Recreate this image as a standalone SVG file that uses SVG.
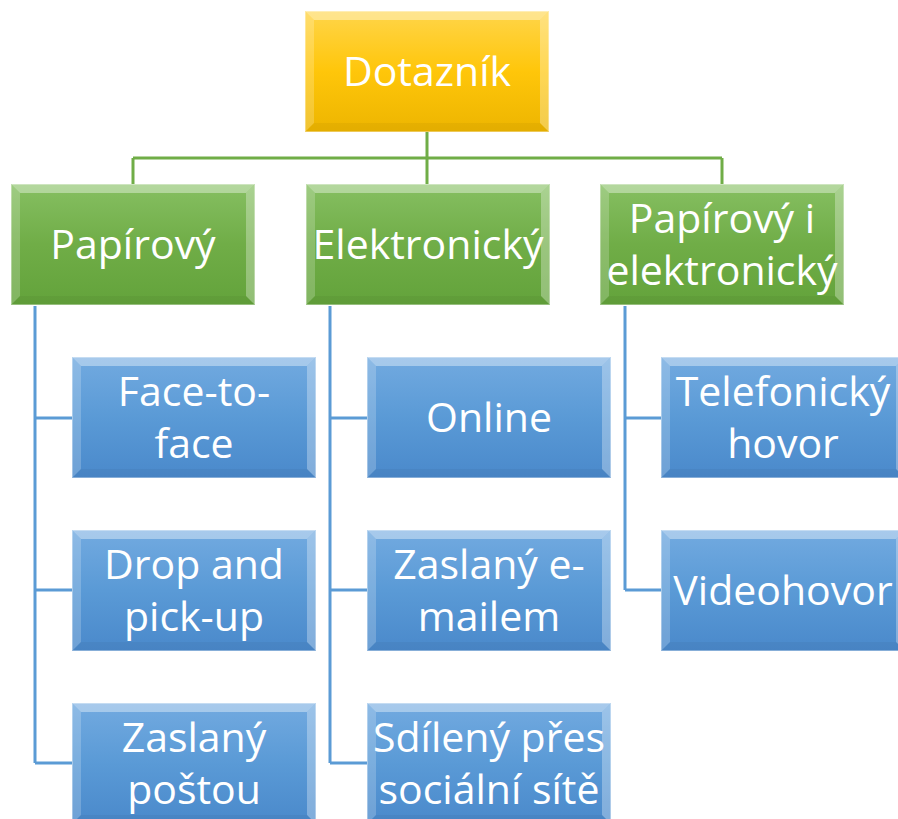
<svg xmlns="http://www.w3.org/2000/svg" xmlns:xlink="http://www.w3.org/1999/xlink" width="898" height="819" viewBox="0 0 898 819">
<defs>
<linearGradient id="gy" x1="0" y1="0" x2="0" y2="1"><stop offset="0" stop-color="#FFD54A"/><stop offset="0.5" stop-color="#FFC60A"/><stop offset="1" stop-color="#EDB500"/></linearGradient>
<linearGradient id="gg" x1="0" y1="0" x2="0" y2="1"><stop offset="0" stop-color="#86BF62"/><stop offset="0.5" stop-color="#70AD47"/><stop offset="1" stop-color="#63A33B"/></linearGradient>
<linearGradient id="gb" x1="0" y1="0" x2="0" y2="1"><stop offset="0" stop-color="#72AAE0"/><stop offset="0.5" stop-color="#5A9AD6"/><stop offset="1" stop-color="#4A89CB"/></linearGradient>
<g id="bevel">
<polygon points="0,0 244,0 235,9 9,9" fill="#fff" opacity="0.38"/>
<polygon points="0,0 9,9 9,112 0,121" fill="#fff" opacity="0.2"/>
<polygon points="244,0 244,121 235,112 235,9" fill="#fff" opacity="0.3"/>
<polygon points="0,121 9,112 235,112 244,121" fill="#000" opacity="0.04"/>
<rect x="0.5" y="0.5" width="243" height="120" fill="none" stroke="#fff" stroke-opacity="0.35"/>
</g>
</defs>
<style>
.t{font-family:"Open Sans","Noto Sans",sans-serif;font-size:41px;fill:#fff;text-anchor:middle}
.cg{stroke:#70AD47;stroke-width:3;fill:none}
.cb{stroke:#5B9BD5;stroke-width:3;fill:none}
</style>
<g id="connectors">
<path class="cg" d="M427,132V158M133,158H722M133,158V184M427,158V184M722,158V184"/>
<path class="cb" d="M35,306V763M35,418H72M35,590H72M35,763H72"/>
<path class="cb" d="M330,306V763M330,418H367M330,590H367M330,763H367"/>
<path class="cb" d="M625,306V590M625,418H661M625,590H661"/>
</g>
<g id="n-dotaznik"><rect x="305" y="11" width="244" height="121" fill="url(#gy)"/><use href="#bevel" transform="translate(305,11)"/><text class="t" x="427" y="86">Dotazník</text></g>
<g id="n-papirovy"><rect x="11" y="184" width="244" height="121" fill="url(#gg)"/><use href="#bevel" transform="translate(11,184)"/><text class="t" x="133" y="259">Papírový</text></g>
<g id="n-elektronicky"><rect x="306" y="184" width="244" height="121" fill="url(#gg)"/><use href="#bevel" transform="translate(306,184)"/><text class="t" x="428" y="259">Elektronický</text></g>
<g id="n-oba"><rect x="600" y="184" width="244" height="121" fill="url(#gg)"/><use href="#bevel" transform="translate(600,184)"/><text class="t" x="722" y="233">Papírový i</text><text class="t" x="722" y="285">elektronický</text></g>
<g id="n-face"><rect x="72" y="357" width="244" height="121" fill="url(#gb)"/><use href="#bevel" transform="translate(72,357)"/><text class="t" x="194" y="406">Face-to-</text><text class="t" x="194" y="458">face</text></g>
<g id="n-drop"><rect x="72" y="530" width="244" height="121" fill="url(#gb)"/><use href="#bevel" transform="translate(72,530)"/><text class="t" x="194" y="579">Drop and</text><text class="t" x="194" y="631">pick-up</text></g>
<g id="n-postou"><rect x="72" y="703" width="244" height="121" fill="url(#gb)"/><use href="#bevel" transform="translate(72,703)"/><text class="t" x="194" y="752">Zaslaný</text><text class="t" x="194" y="804">poštou</text></g>
<g id="n-online"><rect x="367" y="357" width="244" height="121" fill="url(#gb)"/><use href="#bevel" transform="translate(367,357)"/><text class="t" x="489" y="432">Online</text></g>
<g id="n-email"><rect x="367" y="530" width="244" height="121" fill="url(#gb)"/><use href="#bevel" transform="translate(367,530)"/><text class="t" x="489" y="579">Zaslaný e-</text><text class="t" x="489" y="631">mailem</text></g>
<g id="n-social"><rect x="367" y="703" width="244" height="121" fill="url(#gb)"/><use href="#bevel" transform="translate(367,703)"/><text class="t" x="489" y="752">Sdílený přes</text><text class="t" x="489" y="804">sociální sítě</text></g>
<g id="n-telefon"><rect x="661" y="357" width="244" height="121" fill="url(#gb)"/><use href="#bevel" transform="translate(661,357)"/><text class="t" x="783" y="406">Telefonický</text><text class="t" x="783" y="458">hovor</text></g>
<g id="n-video"><rect x="661" y="530" width="244" height="121" fill="url(#gb)"/><use href="#bevel" transform="translate(661,530)"/><text class="t" x="783" y="605">Videohovor</text></g>
</svg>
